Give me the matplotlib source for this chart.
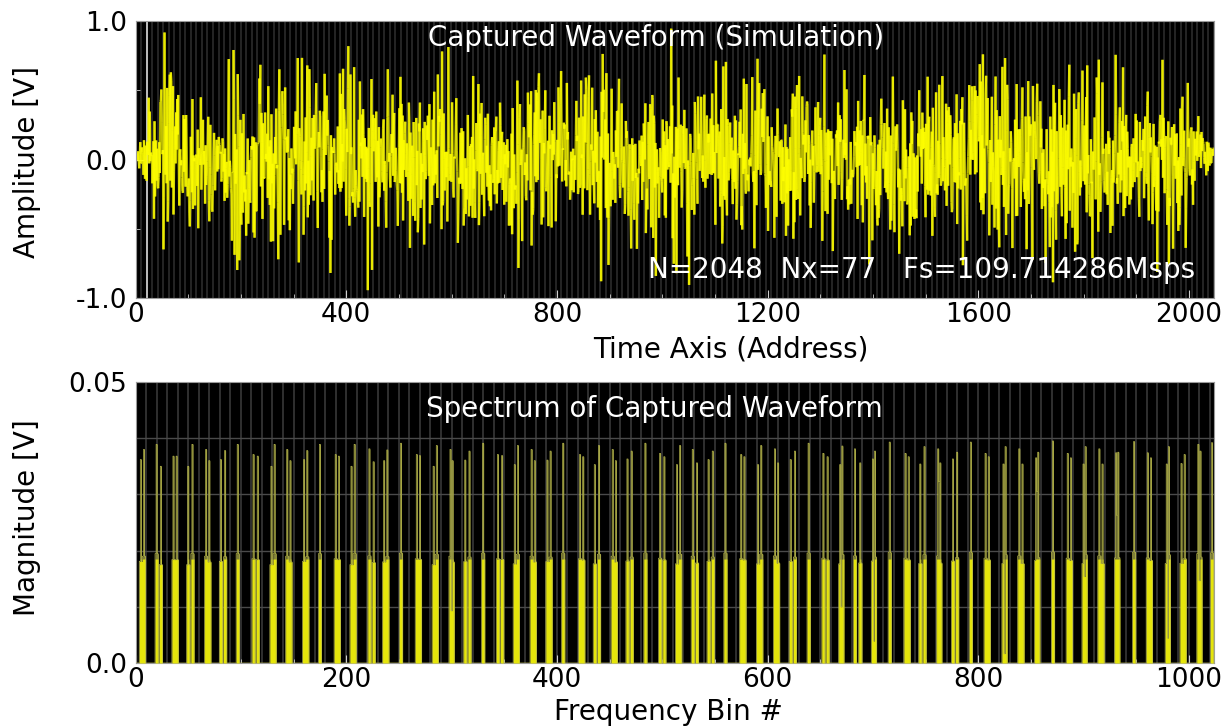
import numpy as np
import matplotlib.pyplot as plt
from matplotlib.collections import LineCollection

plt.rcParams['font.family'] = ['DejaVu Sans']

# capture settings
N = 2048
info_text = 'N=2048  Nx=77   Fs=109.714286Msps'

# tone bins / peak magnitudes [V]
tone_bin = [5, 8, 20, 24, 36, 39, 50, 54, 67, 70, 81, 85, 97, 112, 116, 129, 132, 144, 147, 160,
            163, 175, 190, 193, 205, 208,
            222, 226, 236, 239, 252, 267, 270, 283, 286, 299, 301, 313, 317, 330, 344, 348, 360, 363, 376, 379,
            391, 394, 406,
            422, 425, 436, 440, 453, 456, 467, 471, 484, 498, 502, 514, 517, 529, 533, 544, 548, 560, 575, 578,
            591, 594, 607, 610,
            622, 626, 639, 653, 657, 669, 671, 683, 688, 700, 702, 716, 731, 734, 745, 749, 762, 764, 776, 780,
            793, 807, 810,
            824, 826, 839, 842, 855, 857, 871, 885, 888, 900, 902, 915, 918, 931, 933, 948, 961, 964, 979, 981,
            993, 996, 1009, 1011, 1022]
tone_mag = [.0362, .0380, .0389, .0350, .0368, .0368, .0350, .0389, .0380, .0360, .0362, .0378, .0389, .0371, .0368, .0350, .0389, .0380, .0360, .0362,
            .0378, .0389, .0371, .0368, .0350, .0389,
            .0381, .0358, .0360, .0379, .0391, .0371, .0369, .0350, .0387, .0380, .0360, .0361, .0377, .0391, .0371, .0369, .0353, .0387, .0380, .0360,
            .0361, .0377, .0391,
            .0371, .0367, .0353, .0387, .0380, .0360, .0363, .0377, .0391, .0373, .0367, .0353, .0387, .0380, .0356, .0362, .0377, .0391, .0371, .0367,
            .0353, .0387, .0381, .0356,
            .0362, .0377, .0391, .0373, .0367, .0353, .0386, .0381, .0356, .0363, .0377, .0393, .0373, .0367, .0354, .0385, .0381, .0356, .0363, .0375,
            .0393, .0373, .0367,
            .0354, .0385, .0381, .0354, .0365, .0375, .0395, .0373, .0365, .0354, .0385, .0381, .0354, .0374, .0375, .0394, .0374, .0365, .0354, .0385,
            .0355, .0371, .0389, .0377, .0392]
# tone phases [deg] (not visible in the picture, estimated)
tone_phase = [12, 287, 143, 66, 318, 201, 95, 244, 17, 172, 330, 58, 261, 119, 204, 35, 298, 150, 77, 226,
              341, 9, 183, 272, 104, 49, 315, 162, 236, 88, 21, 197, 279, 131, 352, 64, 215, 170, 302, 41,
              128, 256, 7, 189, 333, 99, 246, 154, 23, 281, 112, 207, 59, 340, 176, 265, 83, 14, 228, 137,
              306, 45, 193, 274, 118, 2, 249, 161, 327, 73, 210, 36, 292, 147, 69, 353, 184, 101, 238, 27,
              311, 166, 52, 220, 135, 284, 90, 345, 11, 199, 257, 124, 30, 269, 178, 62, 323, 141, 233, 80,
              5, 296, 157, 214, 46, 336, 107, 251, 19, 187, 278, 94, 349, 145, 223, 56, 309, 170, 38, 263,
              115]

# captured waveform = sum of the tones
n = np.arange(N)
k = np.array(tone_bin)[:, None]
amp = np.array(tone_mag)[:, None]
ph = np.deg2rad(np.array(tone_phase))[:, None]
wave = (amp * np.cos(2 * np.pi * k * n / N + ph)).sum(axis=0)

# spectrum (hann window)
win = 0.5 - 0.5 * np.cos(2 * np.pi * n / N)
spec = 2 * np.abs(np.fft.rfft(wave * win)) / win.sum()
bins = np.arange(len(spec))

fig = plt.figure(figsize=(12.29, 7.27), dpi=100)
ax1 = fig.add_axes([0.1103, 0.5901, 0.8776, 0.381])
ax2 = fig.add_axes([0.1103, 0.088, 0.8776, 0.3866])

fs = 20      # labels / annotations
fs_tick = 19
yellow = '#ffff00'
olive = '#7f7f38'

# ---- top: waveform ----
ax1.set_facecolor('black')
ax1.vlines(np.arange(0, N, 10.5), -1, 1, color='#2c2c2c', lw=1.2, zorder=0)
ax1.axvline(21, color='#d8d8d8', lw=1.2, zorder=1)
# segments drawn separately so overlapping strokes add up (bright core, dim spikes)
pts = np.column_stack([n, wave])
segs = np.stack([pts[:-1], pts[1:]], axis=1)
ax1.add_collection(LineCollection(segs, colors=yellow, linewidths=1.7, alpha=0.7, zorder=2))
ax1.set_xlim(0, N)
ax1.set_ylim(-1, 1)
ax1.set_xticks(np.arange(0, 2001, 400))
ax1.set_xticks(np.arange(0, N, 100), minor=True)
ax1.set_yticks([-1, 0, 1])
ax1.set_yticklabels(['-1.0', '0.0', '1.0'])
ax1.set_yticks([-0.5, 0.5], minor=True)
ax1.text(988, 0.877, 'Captured Waveform (Simulation)', color='white', fontsize=fs,
         ha='center', va='center')
ax1.text(2012, -0.80, info_text, color='white', fontsize=fs, ha='right', va='center')
ax1.set_xlabel('Time Axis (Address)', fontsize=fs)
ax1.xaxis.set_label_coords(0.552, -0.135)
ax1.set_ylabel('Amplitude [V]', fontsize=fs)
ax1.yaxis.set_label_coords(-0.088, 0.49)

# ---- bottom: spectrum ----
ax2.set_facecolor('black')
ax2.vlines(np.arange(0, 1025, 10), 0, 0.05, color='#383838', lw=1.2, zorder=0)
ax2.hlines([0.01, 0.02, 0.03, 0.04], 0, 1024, color='#4a4a4a', lw=1.0, zorder=0)
ax2.fill_between(bins, spec, step='mid', color=olive, lw=0, zorder=2)
ax2.fill_between(bins, np.minimum(spec, 0.0185), step='mid', color=yellow, alpha=0.8,
                 lw=0, zorder=3)
ax2.step(bins, spec, where='mid', color='#b8b84a', lw=0.5, zorder=4)
ax2.set_xlim(0, 1024)
ax2.set_ylim(0, 0.05)
ax2.set_xticks(np.arange(0, 1001, 200))
ax2.set_xticks(np.arange(0, 1025, 50), minor=True)
ax2.set_yticks([0, 0.05])
ax2.set_yticklabels(['0.0', '0.05'])
ax2.text(493, 0.0452, 'Spectrum of Captured Waveform', color='white', fontsize=fs,
         ha='center', va='center')
ax2.set_xlabel('Frequency Bin #', fontsize=fs)
ax2.xaxis.set_label_coords(0.494, -0.125)
ax2.set_ylabel('Magnitude [V]', fontsize=fs)
ax2.yaxis.set_label_coords(-0.088, 0.516)

for ax in (ax1, ax2):
    for s in ax.spines.values():
        s.set_color('#9a9a9a')
    ax.tick_params(which='both', direction='in', colors='#d0d0d0', labelcolor='black',
                   labelsize=fs_tick)
    ax.tick_params(which='major', length=6)
    ax.tick_params(which='minor', length=3)
    ax.tick_params(axis='x', pad=3)
    ax.tick_params(axis='y', pad=6)

fig.savefig('out.png', dpi=100, facecolor='white')
